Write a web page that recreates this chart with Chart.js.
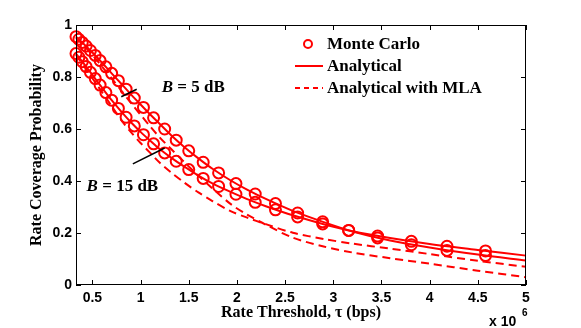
<!DOCTYPE html>
<html>
<head>
<meta charset="utf-8">
<script src="https://cdn.jsdelivr.net/npm/chart.js@4/dist/chart.umd.min.js"></script>
<style>
html, body { margin: 0; padding: 0; background: #fff; }
#wrap { width: 581px; height: 328px; }
</style>
</head>
<body>
<div id="wrap"><canvas id="chart" width="581" height="328"></canvas></div>
<script>
// === Data (rate threshold in units of 10^6 bps) ===
const rateMC = [0.33, 0.36, 0.395, 0.435, 0.48, 0.53, 0.58, 0.64, 0.70, 0.77, 0.85, 0.935,
    1.03, 1.135, 1.25, 1.37, 1.50, 1.65, 1.81, 1.99, 2.19, 2.40, 2.63, 2.89, 3.16, 3.46, 3.81, 4.18, 4.58];
const mc5 = [0.955, 0.945, 0.933, 0.919, 0.902, 0.883, 0.863, 0.839, 0.814, 0.786, 0.753, 0.719,
    0.683, 0.643, 0.600, 0.557, 0.516, 0.472, 0.431, 0.390, 0.350, 0.313, 0.277, 0.243, 0.210, 0.181, 0.155, 0.133, 0.113];
const mc15 = [0.890, 0.876, 0.859, 0.840, 0.818, 0.794, 0.769, 0.740, 0.711, 0.679, 0.645, 0.612,
    0.578, 0.543, 0.508, 0.476, 0.444, 0.410, 0.379, 0.349, 0.318, 0.289, 0.262, 0.235, 0.210, 0.188, 0.168, 0.149, 0.131];

const rateAna = [0.33, 0.4, 0.5, 0.6, 0.7, 0.8, 0.9, 1.0, 1.1, 1.2, 1.32, 1.45, 1.6, 1.75,
    1.94, 2.1, 2.3, 2.58, 2.9, 3.2, 3.59, 4.0, 4.5, 5.0];
const ana5 = [0.955, 0.931, 0.894, 0.855, 0.814, 0.774, 0.733, 0.694, 0.656, 0.619, 0.575, 0.532, 0.487, 0.446,
    0.401, 0.368, 0.331, 0.285, 0.242, 0.206, 0.171, 0.144, 0.117, 0.094];
const ana15 = [0.890, 0.857, 0.808, 0.759, 0.711, 0.667, 0.626, 0.589, 0.555, 0.522, 0.489, 0.456, 0.421, 0.390,
    0.357, 0.331, 0.303, 0.268, 0.234, 0.207, 0.181, 0.158, 0.135, 0.113];
const mla5 = [0.950, 0.925, 0.885, 0.840, 0.795, 0.748, 0.700, 0.655, 0.610, 0.567, 0.522, 0.474, 0.420, 0.370,
    0.310, 0.272, 0.232, 0.182, 0.148, 0.125, 0.103, 0.082, 0.055, 0.030];
const mla15 = [0.885, 0.848, 0.795, 0.742, 0.688, 0.634, 0.588, 0.546, 0.508, 0.470, 0.432, 0.395, 0.356, 0.322,
    0.283, 0.260, 0.234, 0.201, 0.177, 0.159, 0.140, 0.119, 0.093, 0.070];

const xTicks = [0.5, 1, 1.5, 2, 2.5, 3, 3.5, 4, 4.5, 5];
const yTicks = [0, 0.2, 0.4, 0.6, 0.8, 1];
const legendLabels = ["Monte Carlo", "Analytical", "Analytical with MLA"];

const RED = "#ff0000";
const SANS = "'Liberation Sans', Arial, sans-serif";
const SERIF = "'Liberation Serif', 'Times New Roman', serif";

const pts = (xs, ys) => xs.map((x, i) => ({ x, y: ys[i] }));

function lineSet(xs, ys, dashed) {
    return {
        data: pts(xs, ys),
        showLine: true,
        borderColor: RED,
        borderWidth: 2,
        borderDash: dashed ? [8, 5] : [],
        pointRadius: 0,
        tension: 0.3,
        clip: 2,
    };
}

function markerSet(xs, ys) {
    return {
        data: pts(xs, ys),
        showLine: false,
        borderColor: RED,
        backgroundColor: "rgba(0,0,0,0)",
        borderWidth: 2,
        pointRadius: 5.5,
        pointStyle: "circle",
        clip: false,
    };
}

// === Frame, legend, labels ===
const decor = {
    id: "decor",
    afterDatasetsDraw(chart) {
        const { ctx, chartArea: a, scales: { x, y } } = chart;
        ctx.save();
        ctx.strokeStyle = "#000";
        ctx.lineWidth = 1;
        ctx.setLineDash([]);
        ctx.strokeRect(a.left + 0.5, a.top + 0.5, a.width - 1, a.height - 1);

        const tl = 5;
        ctx.beginPath();
        xTicks.forEach(v => {
            const px = Math.round(x.getPixelForValue(v)) + 0.5;
            ctx.moveTo(px, a.bottom); ctx.lineTo(px, a.bottom - tl);
            ctx.moveTo(px, a.top); ctx.lineTo(px, a.top + tl);
        });
        yTicks.forEach(v => {
            const py = Math.round(y.getPixelForValue(v)) + 0.5;
            ctx.moveTo(a.left, py); ctx.lineTo(a.left + tl, py);
            ctx.moveTo(a.right, py); ctx.lineTo(a.right - tl, py);
        });
        ctx.stroke();

        // axis titles
        ctx.fillStyle = "#000";
        ctx.font = "bold 16px " + SERIF;
        ctx.textAlign = "center";
        ctx.textBaseline = "middle";
        ctx.fillText("Rate Threshold, \u03c4 (bps)", (a.left + a.right) / 2, 313);
        ctx.save();
        ctx.translate(37, (a.top + a.bottom) / 2);
        ctx.rotate(-Math.PI / 2);
        ctx.fillText("Rate Coverage Probability", 0, 0);
        ctx.restore();

        // exponent
        ctx.font = "bold 14px " + SANS;
        ctx.textAlign = "left";
        ctx.fillText("x 10", a.right - 37, 322);
        ctx.font = "bold 10px " + SANS;
        ctx.fillText("6", a.right - 4, 313);

        // legend
        const lx = 295, lx2 = 323, tx = 327;
        const rows = [44, 66, 88];
        ctx.strokeStyle = RED;
        ctx.lineWidth = 2;
        ctx.beginPath();
        ctx.arc((lx + lx2) / 2 - 1, rows[0], 4, 0, Math.PI * 2);
        ctx.stroke();
        ctx.beginPath();
        ctx.moveTo(lx, rows[1]); ctx.lineTo(lx2, rows[1]);
        ctx.stroke();
        ctx.setLineDash([5, 4]);
        ctx.beginPath();
        ctx.moveTo(lx, rows[2]); ctx.lineTo(lx2, rows[2]);
        ctx.stroke();
        ctx.setLineDash([]);
        ctx.fillStyle = "#000";
        ctx.font = "bold 17px " + SERIF;
        ctx.textAlign = "left";
        legendLabels.forEach((t, i) => ctx.fillText(t, tx, rows[i] + 1));

        // annotations (placed in data coordinates)
        ctx.strokeStyle = "#000";
        ctx.lineWidth = 1.5;
        ctx.beginPath();
        ctx.moveTo(x.getPixelForValue(0.80), y.getPixelForValue(0.724));
        ctx.lineTo(x.getPixelForValue(0.96), y.getPixelForValue(0.753));
        ctx.moveTo(x.getPixelForValue(0.92), y.getPixelForValue(0.466));
        ctx.lineTo(x.getPixelForValue(1.25), y.getPixelForValue(0.527));
        ctx.stroke();

        const label = (px, py, rest) => {
            ctx.font = "italic bold 17px " + SERIF;
            ctx.fillText("B", px, py);
            const w = ctx.measureText("B").width;
            ctx.font = "bold 17px " + SERIF;
            ctx.fillText(rest, px + w, py);
        };
        label(x.getPixelForValue(1.22), y.getPixelForValue(0.758), " = 5 dB");
        label(x.getPixelForValue(0.44), y.getPixelForValue(0.377), " = 15 dB");
        ctx.restore();
    },
};

new Chart(document.getElementById("chart"), {
    type: "scatter",
    data: {
        datasets: [
            lineSet(rateAna, ana5, false),
            lineSet(rateAna, ana15, false),
            lineSet(rateAna, mla5, true),
            lineSet(rateAna, mla15, true),
            markerSet(rateMC, mc5),
            markerSet(rateMC, mc15),
        ],
    },
    options: {
        responsive: false,
        animation: false,
        devicePixelRatio: 1,
        layout: { padding: { left: 0, right: 55, top: 25, bottom: 0 } },
        plugins: { legend: { display: false }, tooltip: { enabled: false } },
        scales: {
            x: {
                type: "linear",
                min: 0.33,
                max: 5,
                afterBuildTicks: s => { s.ticks = xTicks.map(v => ({ value: v })); },
                afterFit: s => { s.height = 43; },
                grid: { display: false, drawTicks: false },
                border: { display: false },
                ticks: {
                    autoSkip: false,
                    maxRotation: 0,
                    padding: 5,
                    color: "#000",
                    font: { family: SANS, size: 14, weight: "bold" },
                    callback: v => String(v),
                },
            },
            y: {
                type: "linear",
                min: 0,
                max: 1,
                afterBuildTicks: s => { s.ticks = yTicks.map(v => ({ value: v })); },
                afterFit: s => { s.width = 76; },
                grid: { display: false, drawTicks: false },
                border: { display: false },
                ticks: {
                    padding: 4,
                    color: "#000",
                    font: { family: SANS, size: 14, weight: "bold" },
                    callback: v => String(v),
                },
            },
        },
    },
    plugins: [decor],
});
</script>
</body>
</html>
